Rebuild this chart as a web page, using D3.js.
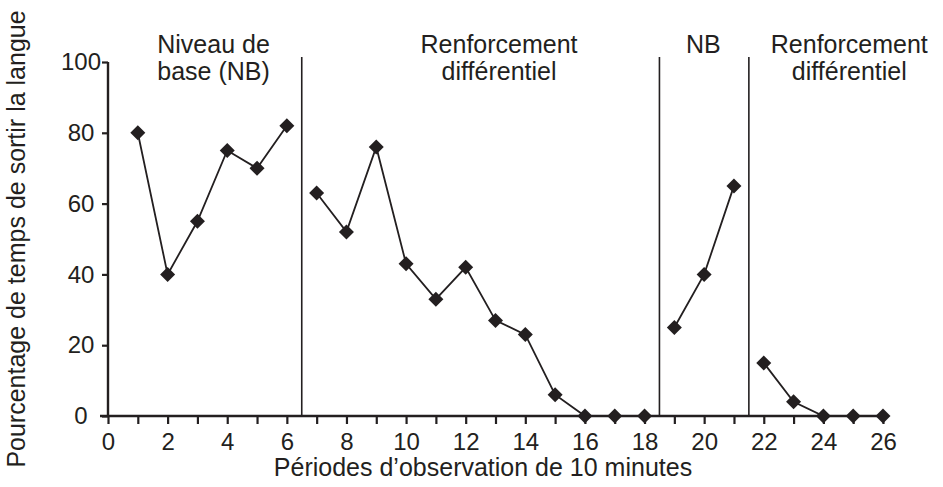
<!DOCTYPE html>
<html>
<head>
<meta charset="utf-8">
<script src="https://cdn.jsdelivr.net/npm/d3@7"></script>
<style>
  body { margin: 0; background: #fff; }
  svg { display: block; }
  text { font-family: Arial, "Liberation Sans", sans-serif; fill: #231f20; }
</style>
</head>
<body>
<svg id="chart" width="943" height="487"></svg>
<script>
// Sessions (10-minute observation periods) and percentage of time
const sessions = d3.range(1, 27);
const percent = [80, 40, 55, 75, 70, 82,
  63, 52, 76, 43, 33, 42, 27, 23, 6, 0, 0, 0,
  25, 40, 65,
  15, 4, 0, 0, 0];

// Phases: first and last session of each, with labels
const phaseStart = [1, 7, 19, 22];
const phaseEnd = [6, 18, 21, 26];
const phaseLabels = [
  ['Niveau de', 'base (NB)'],
  ['Renforcement', 'différentiel'],
  ['NB'],
  ['Renforcement', 'différentiel']
];
const phaseLabelX = [3.54, 13.12, 19.97, 24.87];
const phaseLines = [6.5, 18.5, 21.5];

const yTicks = [0, 20, 40, 60, 80, 100];

const ink = '#231f20';
const svg = d3.select('#chart');

const x = d3.scaleLinear().domain([0, 26]).range([108, 883]);
const y = d3.scaleLinear().domain([0, 100]).range([416, 62]);

// Phase change lines
svg.append('g')
  .selectAll('line')
  .data(phaseLines)
  .join('line')
  .attr('x1', (d) => x(d))
  .attr('x2', (d) => x(d))
  .attr('y1', 57)
  .attr('y2', y(0))
  .attr('stroke', ink)
  .attr('stroke-width', 1.6);

// Axes
const xAxis = svg.append('g')
  .attr('transform', `translate(0,${y(0)})`)
  .call(d3.axisBottom(x).tickValues(d3.range(0, 27)).tickSize(8).tickPadding(9)
    .tickFormat((d) => (d % 2 === 0 ? d : '')));
xAxis.select('.domain').attr('d', `M${x(0) - 8},0H${x(26) + 5}`);

const yAxis = svg.append('g')
  .attr('transform', `translate(${x(0)},0)`)
  .call(d3.axisLeft(y).tickValues(yTicks).tickSize(6).tickPadding(4));
yAxis.select('.domain').attr('d', `M0,${y(100)}V${y(0)}`);
// y tick labels are centred in the reference
yAxis.selectAll('.tick text')
  .attr('text-anchor', 'middle')
  .attr('x', 81 - x(0));

svg.selectAll('.domain').attr('stroke', ink).attr('stroke-width', 2.4);
svg.selectAll('.tick line').attr('stroke', ink).attr('stroke-width', 2.2);
svg.selectAll('.tick text')
  .attr('font-size', 24)
  .attr('font-family', 'Arial, "Liberation Sans", sans-serif')
  .attr('fill', ink);

// Data lines, one per phase
const line = d3.line().x((d) => x(d.s)).y((d) => y(d.v));
const points = sessions.map((s, i) => ({ s: s, v: percent[i] }));

phaseStart.forEach((start, i) => {
  const seg = points.filter((p) => p.s >= start && p.s <= phaseEnd[i]);
  svg.append('path')
    .datum(seg)
    .attr('d', line)
    .attr('fill', 'none')
    .attr('stroke', ink)
    .attr('stroke-width', 1.8);
});

// Diamond markers
const r = 7.5;
svg.append('g')
  .selectAll('path')
  .data(points)
  .join('path')
  .attr('d', (d) => {
    const cx = x(d.s), cy = y(d.v);
    return `M${cx},${cy - r}L${cx + r},${cy}L${cx},${cy + r}L${cx - r},${cy}Z`;
  })
  .attr('fill', ink);

// Phase labels
phaseLabels.forEach((lines, i) => {
  const t = svg.append('text')
    .attr('text-anchor', 'middle')
    .attr('font-size', 25)
    .attr('x', x(phaseLabelX[i]))
    .attr('y', 53);
  lines.forEach((l, j) => {
    t.append('tspan').attr('x', x(phaseLabelX[i])).attr('dy', j === 0 ? 0 : 27).text(l);
  });
});

// Axis titles
svg.append('text')
  .attr('text-anchor', 'middle')
  .attr('font-size', 25)
  .attr('x', 483)
  .attr('y', 476)
  .text('Périodes d’observation de 10 minutes');

svg.append('text')
  .attr('text-anchor', 'middle')
  .attr('font-size', 25)
  .attr('transform', 'translate(25,239) rotate(-90)')
  .text('Pourcentage de temps de sortir la langue');
</script>
</body>
</html>
